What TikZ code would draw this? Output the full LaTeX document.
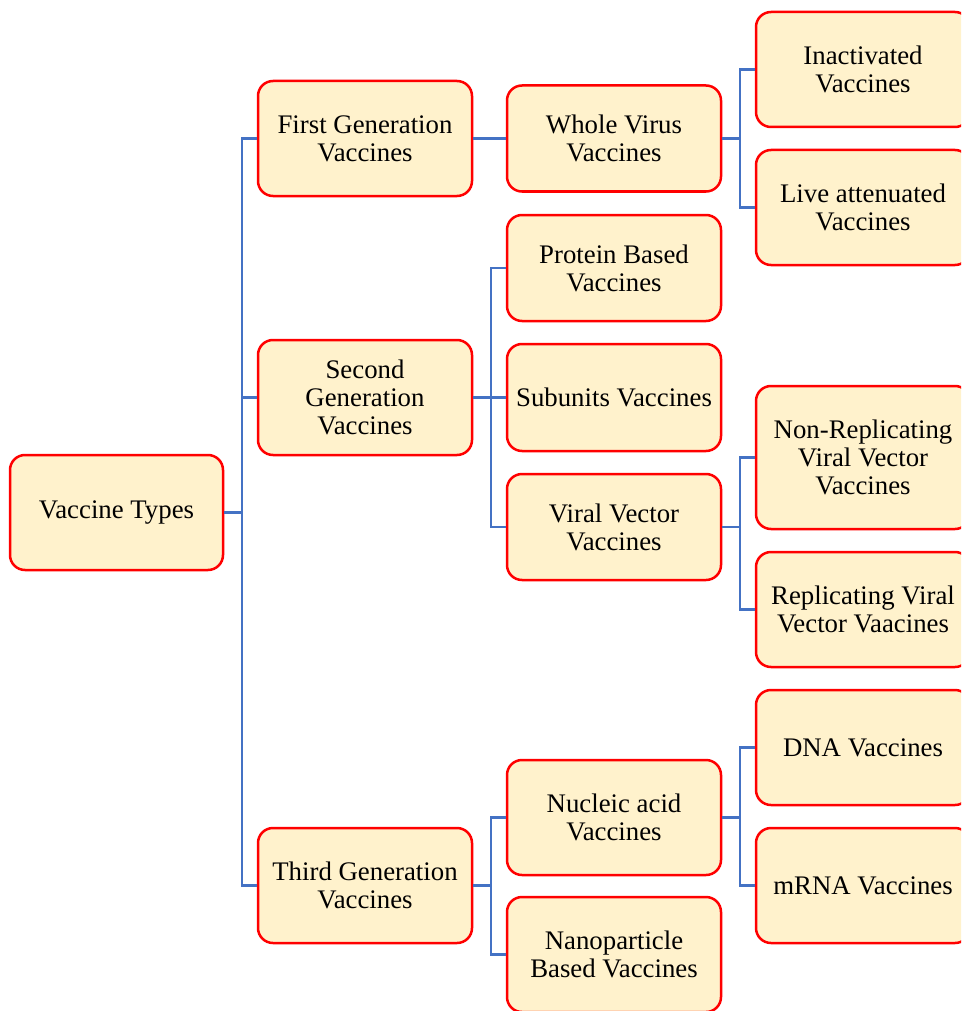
\documentclass[tikz,border=0pt]{standalone}
\usepackage{fontspec}
\setmainfont{Liberation Serif}
\definecolor{boxfill}{HTML}{FFF2CC}
\definecolor{boxdraw}{HTML}{FF0000}
\definecolor{linkcol}{HTML}{4472C4}
\tikzset{
  box/.style={draw=boxdraw, fill=boxfill, line width=2.5pt, rounded corners=15pt,
    align=center, inner sep=2pt, font=\fontsize{26.8}{28}\selectfont,
    minimum width=214pt, minimum height=115pt},
  short/.style={minimum height=106pt},
  link/.style={draw=linkcol, line width=2.5pt}
}
\begin{document}
\begin{tikzpicture}[x=1pt,y=-1pt]
\useasboundingbox (0,0) rectangle (961,1011);
\clip (0,0) rectangle (961,1011);
% level 0
\node[box, minimum width=213pt] (root) at (116.5,512.5) {Vaccine Types};
% level 1
\node[box] (g1) at (365,138.5) {First Generation\\Vaccines};
\node[box] (g2) at (365,397.5) {Second\\Generation\\Vaccines};
\node[box] (g3) at (365,885.5) {Third Generation\\Vaccines};
% level 2
\node[box, short] (whole) at (614,138.5) {Whole Virus\\Vaccines};
\node[box, short] (protein) at (614,268) {Protein Based\\Vaccines};
\node[box, minimum height=107pt] (subunit) at (614,397.5) {Subunits Vaccines};
\node[box, short] (viral) at (614,527) {Viral Vector\\Vaccines};
\node[box] (nucleic) at (614,817.5) {Nucleic acid\\Vaccines};
\node[box] (nano) at (614,954.5) {Nanoparticle\\Based Vaccines};
% level 3
\node[box] (inact) at (863,69.5) {Inactivated\\Vaccines};
\node[box] (live) at (863,207.5) {Live attenuated\\Vaccines};
\node[box, minimum height=143pt] (nonrep) at (863,457.5) {Non-Replicating\\Viral Vector\\Vaccines};
\node[box] (rep) at (863,609.5) {Replicating Viral\\Vector Vaacines};
\node[box] (dna) at (863,747.5) {DNA Vaccines};
\node[box] (mrna) at (863,885.5) {mRNA Vaccines};
% connectors
\draw[link] (root.east) -- ++(17.5,0) coordinate (r1) |- (g1.west);
\draw[link] (r1) |- (g2.west);
\draw[link] (r1) |- (g3.west);
\draw[link] (g1.east) -- (whole.west);
\draw[link] (g2.east) -- ++(17.5,0) coordinate (s1) |- (protein.west);
\draw[link] (s1) |- (subunit.west);
\draw[link] (s1) |- (viral.west);
\draw[link] (g3.east) -- ++(17.5,0) coordinate (t1) |- (nucleic.west);
\draw[link] (t1) |- (nano.west);
\draw[link] (whole.east) -- ++(17.5,0) coordinate (w1) |- (inact.west);
\draw[link] (w1) |- (live.west);
\draw[link] (viral.east) -- ++(17.5,0) coordinate (v1) |- (nonrep.west);
\draw[link] (v1) |- (rep.west);
\draw[link] (nucleic.east) -- ++(17.5,0) coordinate (n1) |- (dna.west);
\draw[link] (n1) |- (mrna.west);
\end{tikzpicture}
\end{document}
